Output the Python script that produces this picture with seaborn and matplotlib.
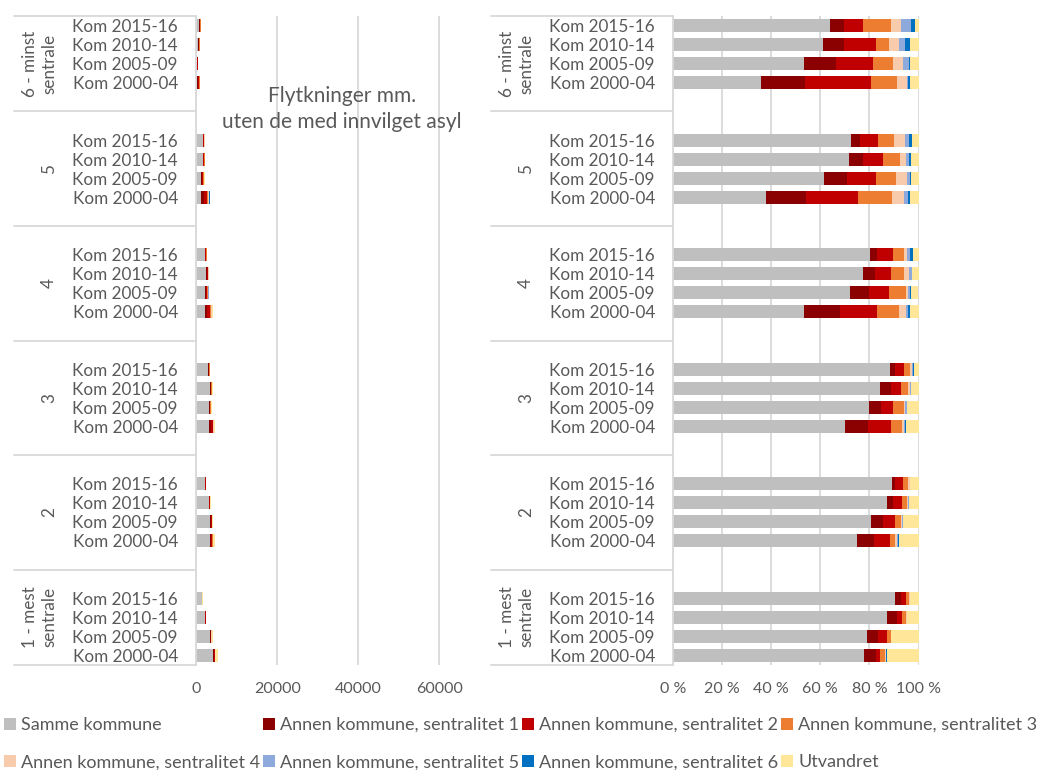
import matplotlib
matplotlib.use("Agg")
import matplotlib.pyplot as plt
import matplotlib.transforms as mtransforms
from matplotlib.patches import Patch
import numpy as np
import pandas as pd
import seaborn as sns

# --- data ------------------------------------------------------------------
groups = ["6 - minst\nsentrale", "5", "4", "3", "2", "1 - mest\nsentrale"]
periods = ["Kom 2015-16", "Kom 2010-14", "Kom 2005-09", "Kom 2000-04"]
categories = [
    "Samme kommune",
    "Annen kommune, sentralitet 1",
    "Annen kommune, sentralitet 2",
    "Annen kommune, sentralitet 3",
    "Annen kommune, sentralitet 4",
    "Annen kommune, sentralitet 5",
    "Annen kommune, sentralitet 6",
    "Utvandret",
]
colors = ["#BFBFBF", "#8B0000", "#C00000", "#ED7D31",
          "#F8CBAD", "#8EA9DB", "#0070C0", "#FFE699"]

# total number of moves per row (group-major, periods as above)
totals = [1300, 1000, 500, 1000,
          2300, 2300, 2150, 3450,
          2800, 3200, 3200, 4100,
          3450, 4100, 3950, 4600,
          2550, 3600, 4300, 4600,
          1650, 2550, 4300, 5400]

# shares in percent per category (same row order)
samme = [64.0, 61.1, 53.5, 35.7, 72.6, 71.6, 61.4, 37.8, 80.2, 77.3, 72.0, 53.5,
         88.2, 84.2, 79.9, 70.2, 89.4, 87.1, 80.6, 75.0, 90.5, 87.1, 79.2, 77.9]
sent1 = [5.6, 8.5, 12.8, 18.0, 3.5, 5.7, 9.4, 16.4, 3.0, 4.9, 7.9, 14.4,
         2.4, 4.4, 4.7, 9.4, 1.2, 2.6, 4.9, 6.8, 2.3, 4.1, 4.2, 4.7]
sent2 = [7.7, 13.0, 15.2, 26.9, 7.2, 8.2, 11.8, 21.1, 6.6, 6.7, 8.1, 15.3,
         3.6, 4.2, 5.2, 9.3, 2.9, 3.4, 5.0, 6.4, 2.0, 2.0, 3.6, 1.9]
sent3 = [11.4, 5.2, 8.3, 10.6, 6.9, 6.9, 8.2, 13.8, 4.4, 5.1, 6.8, 8.8,
         2.4, 3.0, 4.4, 4.4, 2.4, 2.3, 2.2, 2.2, 1.4, 1.8, 1.6, 1.9]
sent4 = [4.2, 4.3, 4.0, 4.2, 4.2, 2.7, 4.6, 4.9, 1.3, 2.3, 1.1, 3.1,
         0.7, 0.8, 0.5, 0.9, 0.6, 0.5, 0.5, 0.8, 0.3, 0.4, 0.3, 0.3]
sent5 = [4.1, 2.6, 2.3, 0.3, 1.7, 1.1, 1.3, 1.7, 1.2, 1.0, 0.6, 0.7,
         0.3, 0.4, 0.7, 0.5, 0.1, 0.3, 0.3, 0.6, 0.1, 0.1, 0.1, 0.1]
sent6 = [1.6, 1.9, 0.4, 0.8, 1.3, 0.7, 0.4, 0.8, 0.9, 0.1, 0.5, 0.9,
         0.4, 0.1, 0.1, 0.3, 0.1, 0.1, 0.1, 0.2, 0.0, 0.0, 0.0, 0.3]
utvandret = [1.4, 3.4, 3.5, 3.5, 2.6, 3.1, 2.9, 3.5, 2.4, 2.6, 3.0, 3.3,
             2.0, 2.9, 4.5, 5.0, 3.3, 3.7, 6.4, 8.0, 3.4, 4.5, 11.0, 12.9]

shares = [samme, sent1, sent2, sent3, sent4, sent5, sent6, utvandret]

# --- layout of category slots (blank slot before/after each group) ---------
slot_order, slot_labels = [], []
for gi, g in enumerate(groups):
    slot_order.append(f"blank_a_{gi}"); slot_labels.append("")
    for p in periods:
        slot_order.append(f"{gi}|{p}"); slot_labels.append(p)
    slot_order.append(f"blank_b_{gi}"); slot_labels.append("")
slot_order, slot_labels = slot_order[1:-1], slot_labels[1:-1]

rows = []
for gi in range(len(groups)):
    for pi, p in enumerate(periods):
        r = gi * len(periods) + pi
        vals = np.array([s[r] for s in shares])
        pct = vals / vals.sum() * 100
        cum_pct = np.cumsum(pct)
        cum_abs = cum_pct / 100 * totals[r]
        for ci, c in enumerate(categories):
            rows.append({"slot": f"{gi}|{p}", "category": c,
                         "cum_pct": cum_pct[ci], "cum_abs": cum_abs[ci]})
df = pd.DataFrame(rows)

# --- figure ----------------------------------------------------------------
sns.set_style("white")
plt.rcParams["font.family"] = ["Lato", "DejaVu Sans"]
TXT = "#595959"
GRID = "#D9D9D9"
W, H = 1053, 770
fig = plt.figure(figsize=(W / 100, H / 100), dpi=100)


def px_box(x0, y0, x1, y1):
    return [x0 / W, 1 - y1 / H, (x1 - x0) / W, (y1 - y0) / H]


ax_abs = fig.add_axes(px_box(196, 16, 480, 665))
ax_pct = fig.add_axes(px_box(673, 16, 918.5, 665))


def draw_panel(ax, col, label_left_px, group_right_px):
    for ci in reversed(range(len(categories))):
        sub = df[df["category"] == categories[ci]]
        sns.barplot(data=sub, y="slot", x=col, order=slot_order, orient="y",
                    color=colors[ci], saturation=1, width=0.68, errorbar=None,
                    linewidth=0, ax=ax)
    ax.set_xlabel("")
    ax.set_ylabel("")
    ax.set_yticks(range(len(slot_order)))
    ax.set_yticklabels(slot_labels, fontsize=12.3, color=TXT)
    ax.set_ylim(len(slot_order) - 0.5, -0.5)
    ax.tick_params(axis="y", length=0, pad=13)
    ax.tick_params(axis="x", length=0, pad=12, labelsize=11.5, labelcolor=TXT)
    ax.grid(axis="x", color=GRID, lw=1.3)
    ax.grid(axis="y", visible=False)
    for s in ["top", "right", "bottom"]:
        ax.spines[s].set_visible(False)
    ax.spines["left"].set_color(GRID)
    ax.spines["left"].set_linewidth(1.3)
    ax.set_axisbelow(True)

    # multi-level category separators and group labels
    bbox = ax.get_position()
    ax_w_px = bbox.width * W
    ax_x0_px = bbox.x0 * W
    trans = mtransforms.blended_transform_factory(ax.transAxes, ax.transData)
    x_line = (label_left_px - ax_x0_px) / ax_w_px
    x_grp = (group_right_px - ax_x0_px) / ax_w_px
    bounds = [-0.5]
    for i in range(len(slot_order) - 1):
        if slot_order[i].startswith("blank_b") and slot_order[i + 1].startswith("blank_a"):
            bounds.append(i + 0.5)
    bounds.append(len(slot_order) - 0.5)
    for b in bounds:
        ax.plot([x_line, 0], [b, b], transform=trans, clip_on=False,
                color=GRID, lw=1.3)
    for gi, g in enumerate(groups):
        yc = (bounds[gi] + bounds[gi + 1]) / 2
        ax.text(x_grp, yc, g, transform=trans, rotation=90, ha="right",
                va="center", multialignment="center", fontsize=12.3, color=TXT,
                linespacing=1.2)


draw_panel(ax_abs, "cum_abs", 14, 57)
ax_abs.set_xlim(0, 70000)
ax_abs.set_xticks([0, 20000, 40000, 60000])
ax_abs.set_xticklabels(["0", "20000", "40000", "60000"])

draw_panel(ax_pct, "cum_pct", 491, 534)
ax_pct.set_xlim(0, 100)
ax_pct.set_xticks(range(0, 101, 20))
ax_pct.set_xticklabels([f"{v} %" for v in range(0, 101, 20)])

fig.text(342 / W, 1 - 109 / H, "Flytkninger mm.\nuten de med innvilget asyl",
         ha="center", va="center", fontsize=15, color=TXT, linespacing=1.35)

handles = [Patch(facecolor=c, edgecolor="none") for c in colors]
idx = [0, 4, 1, 5, 2, 6, 3, 7]
fig.legend([handles[i] for i in idx], [categories[i] for i in idx],
           loc="upper left", bbox_to_anchor=(0.004, 1 - 717 / H), ncol=4,
           frameon=False, fontsize=13, labelcolor=TXT,
           handlelength=0.65, handleheight=0.65, handletextpad=0.3,
           columnspacing=0.15, labelspacing=1.17, borderaxespad=0, borderpad=0)

fig.savefig("out.png", dpi=100)
